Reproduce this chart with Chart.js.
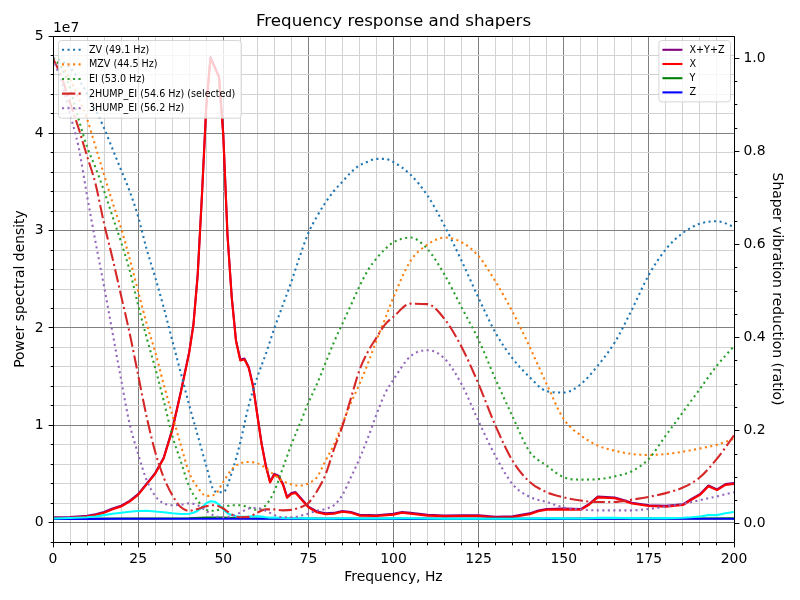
<!DOCTYPE html>
<html><head><meta charset="utf-8">
<script src="https://cdn.jsdelivr.net/npm/chart.js@4/dist/chart.umd.min.js"></script>
<style>html,body{margin:0;padding:0;background:#fff;}canvas{display:block;}</style>
</head><body>
<canvas id="c" width="800" height="600"></canvas>
<script>
// ---------------- DATA ----------------
const chartTitle = 'Frequency response and shapers';
const xTickStep = 25;
// PSD sample frequencies (Hz)
const psdFreqs = [
  0,5,10,12.5,15,17.5,20,22.5,25,27.5,
  30,32.5,35,37.5,40,41.25,42.5,43.75,45,46.25,
  47.5,48.75,50,51.25,52.5,53.75,55,56.25,57.5,58.75,
  60,61.25,62.5,63.75,65,66.25,67.5,68.75,70,71.25,
  72.5,75,77.5,80,82.5,85,87.5,90,95,100,
  102.5,105,110,115,120,125,130,135,140,142.5,
  145,150,155,157.5,160,165,167.5,170,175,180,
  185,187.5,190,192.5,195,197.5,200];
// values in units of 1e7
const psdSum = [
  0.018,0.02,0.033,0.048,0.073,0.108,0.138,0.188,0.258,0.368,
  0.478,0.638,0.93,1.32,1.74,2.03,2.55,3.38,4.29,4.81,
  4.71,4.61,4.01,2.96,2.31,1.86,1.66,1.67,1.58,1.39,
  1.09,0.79,0.56,0.39,0.47,0.45,0.37,0.23,0.27,0.28,
  0.23,0.128,0.078,0.058,0.063,0.083,0.073,0.043,0.038,0.053,
  0.073,0.063,0.043,0.036,0.038,0.038,0.023,0.028,0.058,0.088,
  0.103,0.108,0.103,0.158,0.233,0.223,0.198,0.168,0.143,0.136,
  0.153,0.208,0.258,0.348,0.308,0.363,0.373];
const psdX = [
  0.01,0.012,0.025,0.04,0.065,0.1,0.13,0.18,0.25,0.36,
  0.47,0.63,0.92,1.31,1.73,2.02,2.54,3.37,4.28,4.8,
  4.7,4.6,4.0,2.95,2.3,1.85,1.65,1.66,1.57,1.38,
  1.08,0.78,0.55,0.38,0.46,0.44,0.36,0.22,0.26,0.27,
  0.22,0.12,0.07,0.05,0.055,0.075,0.065,0.035,0.03,0.045,
  0.065,0.055,0.035,0.028,0.03,0.03,0.015,0.02,0.05,0.08,
  0.095,0.1,0.095,0.15,0.225,0.215,0.19,0.16,0.135,0.128,
  0.145,0.2,0.25,0.34,0.3,0.355,0.365];
const afterShaper = [
  0.005,0.01,0.018,0.025,0.04,0.055,0.065,0.075,0.082,0.085,
  0.078,0.07,0.06,0.052,0.055,0.065,0.085,0.12,0.165,0.185,
  0.18,0.15,0.1,0.06,0.04,0.027,0.022,0.022,0.024,0.028,
  0.027,0.024,0.018,0.013,0.014,0.013,0.011,0.007,0.008,0.008,
  0.008,0.006,0.005,0.004,0.005,0.008,0.008,0.005,0.004,0.006,
  0.008,0.007,0.005,0.003,0.003,0.003,0.002,0.002,0.004,0.006,
  0.007,0.006,0.005,0.008,0.011,0.011,0.01,0.009,0.008,0.009,
  0.012,0.017,0.025,0.04,0.04,0.06,0.072];
const yzFreqs = [0,10,20,30,40,45,50,55,60,70,80,90,100,110,120,130,140,150,160,170,180,190,200];
const psdY = [0.002,0.003,0.004,0.005,0.008,0.014,0.014,0.008,0.005,0.004,0.003,0.003,0.003,0.003,0.003,0.003,0.003,0.003,0.004,0.004,0.004,0.005,0.006];
const psdZ = [0.001,0.001,0.002,0.002,0.002,0.003,0.003,0.002,0.002,0.002,0.002,0.002,0.002,0.002,0.002,0.002,0.002,0.002,0.002,0.002,0.002,0.002,0.002];

// Shaper response sample frequencies (Hz)
const shaperFreqs = [
  0,2.5,5,7.5,10,12.5,15,17.5,20,22.5,
  25,27.5,30,32.5,35,37.5,40,42.5,45,47.5,
  50,52.5,55,57.5,60,62.5,65,67.5,70,72.5,
  75,77.5,80,82.5,85,87.5,90,92.5,95,97.5,
  100,105,110,115,120,125,130,135,140,145,
  150,155,160,165,170,175,180,185,190,195,
  200];
const zvVals = [
  1.0,0.995,0.98,0.955,0.925,0.89,0.85,0.805,0.76,0.715,
  0.66,0.59,0.53,0.465,0.395,0.325,0.255,0.19,0.125,0.07,
  0.068,0.11,0.175,0.255,0.315,0.365,0.42,0.47,0.52,0.575,
  0.625,0.66,0.69,0.715,0.735,0.755,0.77,0.778,0.784,0.784,
  0.777,0.75,0.705,0.64,0.565,0.485,0.41,0.355,0.315,0.285,
  0.282,0.3,0.34,0.39,0.46,0.535,0.59,0.625,0.645,0.65,
  0.638];
const mzvVals = [
  1.0,0.985,0.955,0.915,0.87,0.81,0.75,0.69,0.635,0.57,
  0.5,0.43,0.37,0.3,0.235,0.17,0.11,0.078,0.06,0.063,
  0.09,0.117,0.13,0.133,0.13,0.12,0.105,0.092,0.085,0.082,
  0.087,0.1,0.135,0.17,0.215,0.26,0.3,0.345,0.394,0.44,
  0.487,0.565,0.6,0.615,0.605,0.575,0.52,0.455,0.38,0.3,
  0.225,0.19,0.168,0.157,0.15,0.148,0.15,0.155,0.162,0.17,
  0.183];
const eiVals = [
  1.0,0.98,0.935,0.87,0.81,0.765,0.715,0.66,0.605,0.545,
  0.47,0.4,0.335,0.265,0.19,0.135,0.08,0.05,0.03,0.028,
  0.035,0.04,0.04,0.035,0.03,0.04,0.07,0.12,0.17,0.215,
  0.26,0.3,0.345,0.39,0.43,0.47,0.51,0.545,0.57,0.59,
  0.605,0.615,0.59,0.535,0.465,0.395,0.31,0.23,0.155,0.125,
  0.1,0.095,0.096,0.102,0.113,0.14,0.19,0.24,0.29,0.34,
  0.382];
const twoHumpVals = [
  1.0,0.96,0.905,0.85,0.79,0.73,0.645,0.57,0.49,0.41,
  0.32,0.23,0.155,0.1,0.062,0.036,0.028,0.032,0.038,0.04,
  0.033,0.02,0.014,0.015,0.024,0.031,0.031,0.029,0.03,0.035,
  0.045,0.07,0.105,0.16,0.21,0.27,0.33,0.37,0.4,0.428,
  0.445,0.473,0.472,0.44,0.38,0.3,0.21,0.135,0.09,0.068,
  0.057,0.05,0.047,0.047,0.052,0.058,0.066,0.078,0.1,0.14,
  0.19];
const threeHumpVals = [
  1.0,0.95,0.88,0.81,0.705,0.605,0.51,0.41,0.31,0.215,
  0.15,0.094,0.06,0.044,0.04,0.041,0.044,0.04,0.028,0.017,
  0.014,0.017,0.024,0.033,0.034,0.028,0.019,0.014,0.014,0.017,
  0.022,0.028,0.032,0.04,0.062,0.1,0.14,0.185,0.235,0.28,
  0.31,0.36,0.373,0.355,0.3,0.22,0.145,0.085,0.058,0.047,
  0.035,0.031,0.029,0.029,0.029,0.032,0.037,0.043,0.051,0.059,
  0.068];
const shaperLabels = ['ZV (49.1 Hz)','MZV (44.5 Hz)','EI (53.0 Hz)','2HUMP_EI (54.6 Hz) (selected)','3HUMP_EI (56.2 Hz)'];
const psdLabels = ['X+Y+Z','X','Y','Z'];
const PSD_UNIT = 1e7;

// ---------------- STYLE ----------------
const FONT = "'DejaVu Sans', 'Liberation Sans', sans-serif";
const LW = 2.08;
const DOT = [2.08, 3.44];
const DASHDOT = [13.3, 3.33, 2.08, 3.33];

function pts(xs, ys, k) { return xs.map((x, i) => ({x: x, y: ys[i] * k})); }

function psdDs(label, xs, ys, color, order, legend) {
  return {label, data: pts(xs, ys, PSD_UNIT), borderColor: color, backgroundColor: color,
    borderWidth: LW, pointRadius: 0, tension: 0, yAxisID: 'y', order, legendSide: legend,
    borderJoinStyle: 'round', borderCapStyle: 'butt', fill: false};
}
function shaperDs(label, ys, color, dash, order) {
  return {label, data: pts(shaperFreqs, ys, 1), borderColor: color, backgroundColor: color,
    borderWidth: LW, pointRadius: 0, cubicInterpolationMode: 'monotone', yAxisID: 'y2', order,
    borderDash: dash, borderCapStyle: 'butt', borderJoinStyle: 'round', legendSide: 'left', fill: false};
}

const datasets = [
  psdDs(psdLabels[0], psdFreqs, psdSum, '#800080', 20, 'right'),
  psdDs(psdLabels[1], psdFreqs, psdX, '#ff0000', 19, 'right'),
  psdDs(psdLabels[2], yzFreqs, psdY, '#008000', 18, 'right'),
  psdDs(psdLabels[3], yzFreqs, psdZ, '#0000ff', 17, 'right'),
  psdDs('After shaper', psdFreqs, afterShaper, '#00ffff', 16, null),
  shaperDs(shaperLabels[0], zvVals, '#1f77b4', DOT, 5),
  shaperDs(shaperLabels[1], mzvVals, '#ff7f0e', DOT, 4),
  shaperDs(shaperLabels[2], eiVals, '#2ca02c', DOT, 3),
  shaperDs(shaperLabels[3], twoHumpVals, '#d62728', DASHDOT, 2),
  shaperDs(shaperLabels[4], threeHumpVals, '#9467bd', DOT, 1)
];

function alignPx(p) { return Math.round(p - 0.5) + 0.5; }

function drawLegend(ctx, items, x, y, anchorRight, rowH, bottomPad) {
  ctx.save();
  ctx.font = '9.6px ' + FONT;
  const padL = 4, handleLen = 20, gap = 7, padR = 5.5, padT = 9.8;
  const textW = Math.max(...items.map(it => ctx.measureText(it.label).width));
  const w = padL + handleLen + gap + textW + padR;
  const h = padT + rowH * (items.length - 1) + bottomPad;
  const bx = anchorRight ? x - w : x;
  ctx.beginPath();
  if (ctx.roundRect) ctx.roundRect(bx + 0.5, y + 0.5, w, h, 3); else ctx.rect(bx + 0.5, y + 0.5, w, h);
  ctx.fillStyle = 'rgba(255,255,255,0.8)';
  ctx.fill();
  ctx.strokeStyle = 'rgba(204,204,204,0.8)';
  ctx.lineWidth = 1;
  ctx.stroke();
  items.forEach((it, i) => {
    const cy = y + padT + i * rowH;
    ctx.save();
    ctx.beginPath();
    ctx.setLineDash(it.borderDash || []);
    ctx.lineCap = 'butt';
    ctx.strokeStyle = it.borderColor;
    ctx.lineWidth = it.borderWidth;
    ctx.moveTo(bx + padL, cy);
    ctx.lineTo(bx + padL + handleLen, cy);
    ctx.stroke();
    ctx.restore();
    ctx.fillStyle = '#000';
    ctx.textBaseline = 'middle';
    ctx.textAlign = 'left';
    ctx.fillText(it.label, bx + padL + handleLen + gap, cy + 0.5);
  });
  ctx.restore();
}

const decor = {
  id: 'decor',
  beforeDraw(chart) {
    const ctx = chart.ctx;
    ctx.save(); ctx.fillStyle = '#fff'; ctx.fillRect(0, 0, chart.width, chart.height); ctx.restore();
  },
  afterDatasetsDraw(chart) {
    const ctx = chart.ctx;
    const a = chart.chartArea;
    const L = alignPx(a.left), R = alignPx(a.right), T = alignPx(a.top), B = alignPx(a.bottom);
    ctx.save();
    // tick marks (major longer, minor shorter)
    ctx.strokeStyle = '#000';
    ctx.lineWidth = 1;
    ctx.beginPath();
    const sx = chart.scales.x;
    sx.ticks.forEach(t => {
      const p = alignPx(sx.getPixelForValue(t.value));
      const len = t.label !== '' ? 4.9 : 2.8;
      ctx.moveTo(p, B); ctx.lineTo(p, B + len);
    });
    const sy = chart.scales.y;
    sy.ticks.forEach(t => {
      const p = alignPx(sy.getPixelForValue(t.value));
      const len = t.label !== '' ? 4.9 : 2.8;
      ctx.moveTo(L, p); ctx.lineTo(L - len, p);
    });
    const sy2 = chart.scales.y2;
    sy2.ticks.forEach(t => {
      const p = alignPx(sy2.getPixelForValue(t.value));
      const len = t.label !== '' ? 4.9 : 2.8;
      ctx.moveTo(R, p); ctx.lineTo(R + len, p);
    });
    ctx.stroke();
    // spines
    ctx.beginPath();
    ctx.rect(L, T, R - L, B - T);
    ctx.stroke();
    ctx.restore();
    // legends
    const ds = chart.data.datasets;
    drawLegend(ctx, ds.filter(d => d.legendSide === 'left'), a.left + 5, a.top + 4, false, 14.6, 9.5);
    drawLegend(ctx, ds.filter(d => d.legendSide === 'right'), a.right - 4, a.top + 4, true, 14.2, 9);
    // title and offset text
    ctx.save();
    ctx.fillStyle = '#000';
    ctx.font = '16.7px ' + FONT;
    ctx.textAlign = 'center';
    ctx.textBaseline = 'alphabetic';
    ctx.fillText(chartTitle, (a.left + a.right) / 2, 26);
    ctx.font = '13.9px ' + FONT;
    ctx.textAlign = 'left';
    ctx.fillText('1e7', a.left, 32);
    ctx.restore();
  }
};

const tickFont = {family: FONT, size: 13.9};

new Chart(document.getElementById('c'), {
  type: 'line',
  data: {datasets},
  options: {
    responsive: false,
    animation: false,
    events: [],
    layout: {padding: {top: 36, left: 0, right: 0, bottom: 0}},
    plugins: {legend: {display: false}, tooltip: {enabled: false}, title: {display: false}},
    scales: {
      x: {
        type: 'linear', min: 0, max: 200,
        afterFit: s => { s.height = 58; },
        border: {display: false},
        grid: {
          color: c => (c.tick && Math.round(c.tick.value) % xTickStep === 0) ? '#808080' : '#d3d3d3',
          lineWidth: 1, drawTicks: false
        },
        ticks: {
          stepSize: 5, autoSkip: false, maxRotation: 0, minRotation: 0, padding: 9.5,
          color: '#000', font: tickFont,
          callback: v => (Math.round(v) % xTickStep === 0 ? String(Math.round(v)) : '')
        },
        title: {display: true, text: 'Frequency, Hz', color: '#000', font: tickFont, padding: {top: 0, bottom: 14.7}}
      },
      y: {
        type: 'linear', position: 'left', min: -0.24e7, max: 5.03e7,
        afterFit: s => { s.width = 53; },
        border: {display: false},
        grid: {
          color: c => (c.tick && Math.round(c.tick.value / 2e6) % 5 === 0) ? '#808080' : '#d3d3d3',
          lineWidth: 1, drawTicks: false
        },
        ticks: {
          stepSize: 2e6, autoSkip: false, includeBounds: false, padding: 9.5,
          color: '#000', font: tickFont,
          callback: v => (Math.round(v / 2e6) % 5 === 0 ? String(Math.round(v / PSD_UNIT)) : '')
        },
        title: {display: true, text: 'Power spectral density', color: '#000', font: tickFont, padding: {top: 11.7, bottom: 0}}
      },
      y2: {
        type: 'linear', position: 'right', min: -0.039, max: 1.048,
        afterFit: s => { s.width = 66; },
        border: {display: false},
        grid: {drawOnChartArea: false, drawTicks: false},
        ticks: {
          stepSize: 0.05, autoSkip: false, includeBounds: false, padding: 9.5,
          color: '#000', font: tickFont,
          callback: v => (Math.round(v * 100) % 20 === 0 ? (Math.round(v * 10) / 10).toFixed(1) : '')
        },
        title: {display: true, text: 'Shaper vibration reduction (ratio)', color: '#000', font: tickFont, padding: {top: 14.7, bottom: 0}}
      }
    }
  },
  plugins: [decor]
});
</script>
</body></html>
